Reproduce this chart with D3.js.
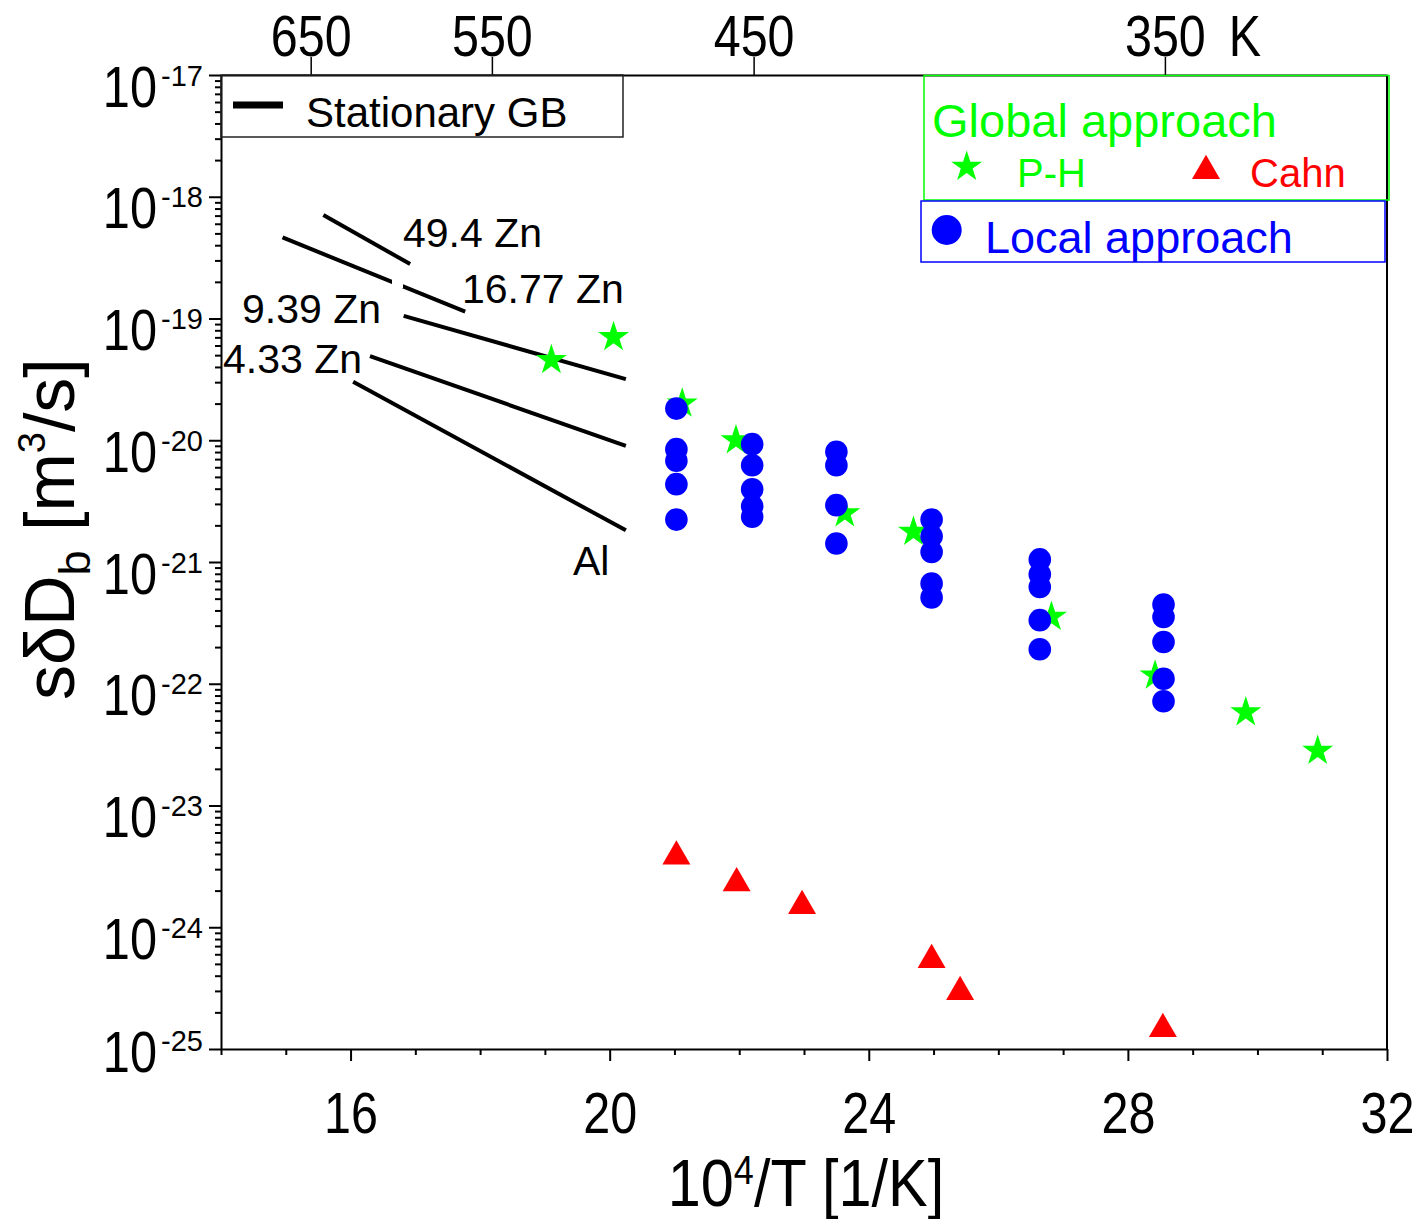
<!DOCTYPE html>
<meta charset="utf-8">
<script src="https://d3js.org/d3.v7.min.js"></script>
<style>
  body { margin: 0; background: #fff; }
  text { font-family: "Liberation Sans", Arial, Helvetica, sans-serif; fill: #000; }
</style>

<div id="chart"></div>

<script>

  // ---- data (x = 1e4/T in 1/K, y = s*delta*Db in m^3/s) ----

  // local approach (blue circles)
  var localX = [21.03, 21.03, 21.03, 21.03, 21.03,
                22.20, 22.20, 22.20, 22.20, 22.20,
                23.50, 23.50, 23.50, 23.50,
                24.97, 24.97, 24.97, 24.97, 24.97,
                26.64, 26.64, 26.64, 26.64, 26.64,
                28.55, 28.55, 28.55, 28.55, 28.55];
  var localD = [1.82e-20, 8.45e-21, 6.78e-21, 4.36e-21, 2.23e-21,
                9.29e-21, 6.24e-21, 3.96e-21, 2.87e-21, 2.35e-21,
                8.03e-21, 6.24e-21, 2.93e-21, 1.42e-21,
                2.23e-21, 1.63e-21, 1.21e-21, 6.65e-22, 5.11e-22,
                1.05e-21, 7.94e-22, 6.24e-22, 3.33e-22, 1.92e-22,
                4.48e-22, 3.54e-22, 2.20e-22, 1.10e-22, 7.18e-23];

  // global approach, P-H (green stars)
  var phX = [19.10, 20.06, 21.12, 21.95, 23.63, 24.69, 26.82, 28.42, 29.82, 30.93];
  var phD = [4.55e-20, 7.03e-20, 2.00e-20, 1.00e-20, 2.51e-21, 1.77e-21, 3.54e-22, 1.17e-22, 5.83e-23, 2.81e-23];

  // global approach, Cahn (red triangles)
  var cahnX = [21.03, 21.96, 22.97, 24.97, 25.41, 28.54];
  var cahnD = [3.81e-24, 2.30e-24, 1.50e-24, 5.40e-25, 2.94e-25, 1.46e-25];

  // stationary GB lines (start / end points)
  var gbNames = ["49.4 Zn", "16.77 Zn", "9.39 Zn", "4.33 Zn", "Al"];
  var gbX1 = [15.58, 14.95, 16.82, 16.30, 16.04];
  var gbD1 = [7.08e-19, 4.63e-19, 1.05e-19, 4.91e-20, 3.02e-20];
  var gbX2 = [16.92, 17.77, 20.25, 20.25, 20.25];
  var gbD2 = [2.80e-19, 1.14e-19, 3.18e-20, 8.99e-21, 1.82e-21];

  // top axis temperatures (K)
  var topK = [650, 550, 450, 350];

  // decades shown on the y axis
  var decades = [-25, -24, -23, -22, -21, -20, -19, -18, -17];

  // ---- layout ----
  var margin = {top: 75, right: 36, bottom: 170, left: 221},
      width = 1423 - margin.left - margin.right,
      height = 1219 - margin.top - margin.bottom;

  var svg = d3.select("#chart")
    .append("svg")
      .attr("width", width + margin.left + margin.right)
      .attr("height", height + margin.top + margin.bottom)
    .append("g")
      .attr("transform", "translate(" + margin.left + "," + margin.top + ")");

  var x = d3.scaleLinear().domain([14, 32]).range([0, width]);
  var y = d3.scaleLog().domain([1e-25, 1e-17]).range([height, 0]);

  // major + minor log ticks
  var yTicks = [];
  decades.forEach(function(e, i) {
    var last = i === decades.length - 1 ? 1 : 9;
    for (var k = 1; k <= last; k++) yTicks.push(Number(k + "e" + e));
  });

  function isMajorY(d) {
    var l = Math.log10(d);
    return Math.abs(l - Math.round(l)) < 1e-6;
  }

  // bottom axis
  var xAxis = svg.append("g")
    .attr("transform", "translate(0," + height + ")")
    .call(d3.axisBottom(x)
      .tickValues(d3.range(14, 33))
      .tickSize(6)
      .tickSizeOuter(0)
      .tickFormat(function(d) { return d % 4 === 0 ? d : ""; }));
  xAxis.attr("font-family", null).attr("font-size", null);
  xAxis.select(".domain").attr("stroke-width", 2);
  xAxis.selectAll(".tick line")
    .attr("stroke-width", 2)
    .attr("y2", function(d) { return d % 4 === 0 ? 12 : 6; });
  xAxis.selectAll(".tick text")
    .attr("y", 84)
    .attr("dy", null)
    .attr("transform", "scale(0.85,1)")
    .style("font-size", "57px");

  // left axis
  var yAxis = svg.append("g")
    .call(d3.axisLeft(y)
      .tickValues(yTicks)
      .tickSize(6)
      .tickSizeOuter(0)
      .tickFormat(""));
  yAxis.attr("font-family", null).attr("font-size", null);
  yAxis.select(".domain").attr("stroke-width", 2);
  yAxis.selectAll(".tick line")
    .attr("stroke-width", 2)
    .attr("x2", function(d) { return isMajorY(d) ? -12 : -6; });
  yAxis.selectAll(".tick").filter(isMajorY).each(function(d) {
    var g = d3.select(this);
    var e = Math.round(Math.log10(d));
    var shift = e === -25 ? -9 : 0;   // bottom label sits a little higher
    g.append("text")
      .attr("text-anchor", "end")
      .attr("transform", "translate(-64," + (31 + shift) + ") scale(0.84,1)")
      .style("font-size", "58px")
      .text("10");
    g.append("text")
      .attr("text-anchor", "end")
      .attr("x", -18)
      .attr("y", 10 + shift)
      .style("font-size", "29px")
      .text(e);
  });

  // top axis (temperature)
  var xTop = svg.append("g")
    .call(d3.axisTop(x)
      .tickValues(topK.map(function(t) { return 1e4 / t; }))
      .tickSize(18)
      .tickSizeOuter(0)
      .tickFormat(function(d, i) { return topK[i]; }));
  xTop.attr("font-family", null).attr("font-size", null);
  xTop.select(".domain").attr("stroke-width", 2);
  xTop.selectAll(".tick line").attr("stroke-width", 1.5);
  xTop.selectAll(".tick text")
    .attr("y", -19)
    .attr("dy", null)
    .attr("transform", "scale(0.85,1)")
    .style("font-size", "57px");
  svg.append("text")
    .attr("text-anchor", "middle")
    .attr("transform", "translate(" + (1245 - margin.left) + ",-19) scale(0.85,1)")
    .style("font-size", "57px")
    .text("K");

  // right frame line
  svg.append("line")
    .attr("x1", width).attr("x2", width)
    .attr("y1", 0).attr("y2", height)
    .attr("stroke", "black")
    .attr("stroke-width", 2);

  // stationary GB lines
  svg.selectAll(".gb")
    .data(gbNames)
    .enter()
    .append("line")
      .attr("class", "gb")
      .attr("x1", function(d, i) { return x(gbX1[i]); })
      .attr("y1", function(d, i) { return y(gbD1[i]); })
      .attr("x2", function(d, i) { return x(gbX2[i]); })
      .attr("y2", function(d, i) { return y(gbD2[i]); })
      .attr("stroke", "black")
      .attr("stroke-width", 4);

  // small white break in the 16.77 Zn line (as in the original)
  svg.append("rect")
    .attr("x", 392 - margin.left).attr("y", 276 - margin.top)
    .attr("width", 11).attr("height", 12)
    .attr("fill", "white");

  // line labels
  var gbLabelPos = [[403, 247], [462, 303], [242, 323], [223, 373], [573, 575]];
  svg.selectAll(".gblab")
    .data(gbNames)
    .enter()
    .append("text")
      .attr("class", "gblab")
      .attr("x", function(d, i) { return gbLabelPos[i][0] - margin.left; })
      .attr("y", function(d, i) { return gbLabelPos[i][1] - margin.top; })
      .style("font-size", "41px")
      .text(function(d) { return d; });

  var star = d3.symbol().type(d3.symbolStar).size(298);
  var tri = d3.symbol().type(d3.symbolTriangle).size(339);

  // P-H stars
  svg.selectAll(".ph")
    .data(phX)
    .enter()
    .append("path")
      .attr("class", "ph")
      .attr("d", star)
      .attr("fill", "#00ff00")
      .attr("transform", function(d, i) { return "translate(" + x(d) + "," + y(phD[i]) + ")"; });

  // local approach circles
  svg.selectAll(".loc")
    .data(localX)
    .enter()
    .append("circle")
      .attr("class", "loc")
      .attr("cx", function(d) { return x(d); })
      .attr("cy", function(d, i) { return y(localD[i]); })
      .attr("r", 11.3)
      .attr("fill", "#0000ff");

  // Cahn triangles
  svg.selectAll(".cahn")
    .data(cahnX)
    .enter()
    .append("path")
      .attr("class", "cahn")
      .attr("d", tri)
      .attr("fill", "#ff0000")
      .attr("transform", function(d, i) { return "translate(" + x(d) + "," + y(cahnD[i]) + ")"; });

  // ---- legends (absolute page coords shifted into the plot group) ----
  var L = svg.append("g").attr("transform", "translate(" + (-margin.left) + "," + (-margin.top) + ")");

  L.append("rect")
    .attr("x", 221).attr("y", 75).attr("width", 402).attr("height", 62)
    .attr("fill", "none").attr("stroke", "#222").attr("stroke-width", 1.5);
  L.append("line")
    .attr("x1", 233).attr("x2", 283).attr("y1", 105).attr("y2", 105)
    .attr("stroke", "black").attr("stroke-width", 7);
  L.append("text").attr("x", 306).attr("y", 127).style("font-size", "42px").text("Stationary GB");

  L.append("rect")
    .attr("x", 924).attr("y", 75.5).attr("width", 465).attr("height", 124.5)
    .attr("fill", "none").attr("stroke", "#00ff00").attr("stroke-width", 1.5);
  L.append("text").attr("x", 932).attr("y", 137).style("font-size", "47px")
    .style("fill", "#00ff00").text("Global approach");
  L.append("path").attr("d", star).attr("fill", "#00ff00")
    .attr("transform", "translate(966.7,166.7)");
  L.append("text").attr("x", 1017).attr("y", 187).style("font-size", "40px")
    .style("fill", "#00ff00").text("P-H");
  L.append("path").attr("d", tri).attr("fill", "#ff0000")
    .attr("transform", "translate(1206,171)");
  L.append("text").attr("x", 1250).attr("y", 187).style("font-size", "40px")
    .style("fill", "#ff0000").text("Cahn");

  L.append("rect")
    .attr("x", 921).attr("y", 201).attr("width", 464).attr("height", 61)
    .attr("fill", "none").attr("stroke", "#0000ff").attr("stroke-width", 1.5);
  L.append("circle").attr("cx", 946.7).attr("cy", 230).attr("r", 15).attr("fill", "#0000ff");
  L.append("text").attr("x", 985).attr("y", 253).style("font-size", "45px")
    .style("fill", "#0000ff").text("Local approach");

  // ---- axis titles ----
  var xt = L.append("text")
    .attr("text-anchor", "middle")
    .attr("transform", "translate(806,1206) scale(0.9,1)")
    .style("font-size", "66px");
  xt.append("tspan").text("10");
  xt.append("tspan").attr("dy", -22).style("font-size", "40px").text("4");
  xt.append("tspan").attr("dy", 22).text("/T [1/K]");

  var yt = L.append("text")
    .attr("transform", "translate(74,700) rotate(-90)")
    .style("font-size", "70px");
  yt.append("tspan").text("s\u03b4D");
  yt.append("tspan").attr("dy", 16).style("font-size", "45px").text("b");
  yt.append("tspan").attr("dy", -16).text(" [m");
  yt.append("tspan").attr("dy", -29).style("font-size", "38px").text("3");
  yt.append("tspan").attr("dy", 29).text("/s]");

</script>
